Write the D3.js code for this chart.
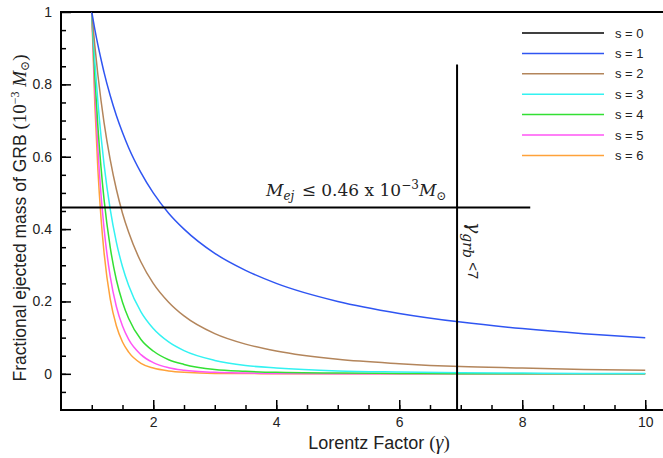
<!DOCTYPE html>
<html>
<head>
<style>
  body { margin: 0; background: #fff; font-family: "Liberation Sans", Arial, sans-serif; }
  .tick text { font-family: "Liberation Sans", Arial, sans-serif; font-size: 14px; fill: #222; }
  .tick line { stroke: #000; stroke-width: 1.5; }
</style>
</head>
<body>
<div id="chart"></div>
<script src="https://d3js.org/d3.v7.min.js"></script>
<script>
// Lorentz factor samples and the fractional ejected mass
var gammas = [1, 1.05, 1.1, 1.15, 1.2, 1.3, 1.4, 1.5, 1.6, 1.8, 2, 2.25, 2.5, 3, 3.5, 4, 5, 6, 7, 8, 9, 10];
var s0 = [1, 1, 1, 1, 1, 1, 1, 1, 1, 1, 1, 1, 1, 1, 1, 1, 1, 1, 1, 1, 1, 1];
var s1 = [1, 0.952, 0.909, 0.870, 0.833, 0.769, 0.714, 0.667, 0.625, 0.556, 0.5, 0.444, 0.4, 0.333, 0.286, 0.25, 0.2, 0.167, 0.143, 0.125, 0.111, 0.1];
var s2 = [1, 0.907, 0.826, 0.756, 0.694, 0.592, 0.510, 0.444, 0.391, 0.309, 0.25, 0.198, 0.16, 0.111, 0.082, 0.063, 0.04, 0.028, 0.020, 0.016, 0.012, 0.01];
var s3 = [1, 0.864, 0.751, 0.658, 0.579, 0.455, 0.364, 0.296, 0.244, 0.171, 0.125, 0.088, 0.064, 0.037, 0.023, 0.016, 0.008, 0.005, 0.003, 0.002, 0.001, 0.001];
var s4 = [1, 0.823, 0.683, 0.572, 0.482, 0.350, 0.260, 0.198, 0.153, 0.095, 0.063, 0.039, 0.026, 0.012, 0.007, 0.004, 0.002, 0.001, 0, 0, 0, 0];
var s5 = [1, 0.784, 0.621, 0.497, 0.402, 0.269, 0.186, 0.132, 0.095, 0.053, 0.031, 0.017, 0.010, 0.004, 0.002, 0.001, 0, 0, 0, 0, 0, 0];
var s6 = [1, 0.746, 0.564, 0.432, 0.335, 0.207, 0.133, 0.088, 0.060, 0.029, 0.016, 0.008, 0.004, 0.001, 0.001, 0, 0, 0, 0, 0, 0, 0];

var labels = ["s = 0", "s = 1", "s = 2", "s = 3", "s = 4", "s = 5", "s = 6"];
var colors = ["#000000", "#2f55f2", "#b3855b", "#33f2f2", "#33e033", "#ff55f5", "#ffa23a"];
var allSeries = [s0, s1, s2, s3, s4, s5, s6];

var xTicks = [2, 4, 6, 8, 10];
var yTicks = [0, 0.2, 0.4, 0.6, 0.8, 1];

// reference lines
var massLimit = 0.46, massLineEnd = 8.13;
var gammaLimit = 6.94, gammaLineTop = 0.855;

var width = 663, height = 458;
var margin = {top: 12, left: 61, bottom: 48};

var svg = d3.select("#chart").append("svg")
  .attr("width", width)
  .attr("height", height);

var x = d3.scaleLinear().domain([0.5, 10.5]).range([margin.left, 676]);
var y = d3.scaleLinear().domain([-0.1, 1]).range([height - margin.bottom, margin.top]);

// minor ticks
svg.append("g")
  .attr("transform", "translate(0," + y(-0.1) + ")")
  .call(d3.axisBottom(x).tickValues(d3.range(1, 10.01, 0.5)).tickSize(-5).tickFormat(""))
  .call(function(g) { g.select(".domain").remove(); });
svg.append("g")
  .attr("transform", "translate(" + x(0.5) + ",0)")
  .call(d3.axisLeft(y).tickValues(d3.range(-0.05, 1, 0.05)).tickSize(-5).tickFormat(""))
  .call(function(g) { g.select(".domain").remove(); });

// major ticks
svg.append("g")
  .attr("transform", "translate(0," + y(-0.1) + ")")
  .call(d3.axisBottom(x).tickValues(xTicks).tickSize(-10).tickPadding(7).tickFormat(d3.format("d")))
  .call(function(g) { g.select(".domain").remove(); });
svg.append("g")
  .attr("transform", "translate(" + x(0.5) + ",0)")
  .call(d3.axisLeft(y).tickValues(yTicks).tickSize(-10).tickPadding(9).tickFormat(function(d) { return d === 0 || d === 1 ? d : d3.format(".1f")(d); }))
  .call(function(g) { g.select(".domain").remove(); });

// frame
svg.append("rect")
  .attr("x", x(0.5))
  .attr("y", y(1))
  .attr("width", x(10.5) - x(0.5))
  .attr("height", y(-0.1) - y(1))
  .attr("fill", "none")
  .attr("stroke", "#000")
  .attr("stroke-width", 2);

var line = d3.line()
  .x(function(d, i) { return x(gammas[i]); })
  .y(function(d) { return y(d); })
  .curve(d3.curveMonotoneX);

svg.append("g").selectAll("path")
  .data(allSeries.slice(1).reverse())
  .enter().append("path")
  .attr("d", line)
  .attr("fill", "none")
  .attr("stroke", function(d) { return colors[allSeries.indexOf(d)]; })
  .attr("stroke-width", 1.5);

// s = 0 lies on the top edge
svg.append("line")
  .attr("x1", x(gammas[0])).attr("x2", x(10.5))
  .attr("y1", y(s0[0])).attr("y2", y(s0[0]))
  .attr("stroke", "#000").attr("stroke-width", 2);

// reference lines
svg.append("line")
  .attr("x1", x(0.5)).attr("x2", x(massLineEnd))
  .attr("y1", y(massLimit)).attr("y2", y(massLimit))
  .attr("stroke", "#000").attr("stroke-width", 2);
svg.append("line")
  .attr("x1", x(gammaLimit)).attr("x2", x(gammaLimit))
  .attr("y1", y(gammaLineTop)).attr("y2", y(-0.1))
  .attr("stroke", "#000").attr("stroke-width", 2);

var t1 = svg.append("text")
  .attr("x", 266)
  .attr("y", y(massLimit) - 11)
  .style("font-family", "'DejaVu Serif', serif")
  .style("font-size", "17px")
  .style("fill", "#222");
t1.append("tspan").style("font-style", "italic").text("M");
t1.append("tspan").attr("dy", 4).style("font-size", "12px").style("font-style", "italic").text("ej");
t1.append("tspan").attr("dy", -4).attr("dx", 2).text(" \u2264 0.46 x 10");
t1.append("tspan").attr("dy", -7).style("font-size", "12px").text("\u22123");
t1.append("tspan").attr("dy", 7).style("font-style", "italic").text("M");
t1.append("tspan").attr("dy", 4).style("font-size", "12px").text("\u2299");

var t2 = svg.append("text")
  .attr("transform", "translate(468,222) rotate(90)")
  .style("font-family", "'DejaVu Serif', serif")
  .style("font-size", "19px")
  .style("fill", "#222");
t2.append("tspan").style("font-style", "italic").text("\u03b3");
t2.append("tspan").attr("dy", 5).style("font-size", "14px").style("font-style", "italic").text("grb");
t2.append("tspan").attr("dy", -5).style("font-family", "'Liberation Sans', Arial, sans-serif").style("font-size", "15px").text(" <7");

// legend
var legend = svg.append("g").selectAll("g")
  .data(labels)
  .enter().append("g")
  .attr("transform", function(d, i) { return "translate(522," + (33 + i * 20.4) + ")"; });
legend.append("line")
  .attr("x1", 0).attr("x2", 82)
  .attr("stroke", function(d, i) { return colors[i]; })
  .attr("stroke-width", 1.5);
legend.append("text")
  .attr("x", 93)
  .attr("dy", "0.35em")
  .style("font-size", "13px")
  .style("fill", "#222")
  .text(function(d) { return d; });

// axis titles
var xt = svg.append("text")
  .attr("x", 379)
  .attr("y", 449)
  .attr("text-anchor", "middle")
  .style("font-size", "18px")
  .style("fill", "#222");
xt.append("tspan").text("Lorentz Factor ");
xt.append("tspan").style("font-family", "'Liberation Serif', serif").style("font-size", "19px").text("(");
xt.append("tspan").style("font-family", "'Liberation Serif', serif").style("font-style", "italic").style("font-size", "20px").text("\u03b3");
xt.append("tspan").style("font-family", "'Liberation Serif', serif").style("font-size", "19px").text(")");

var yt = svg.append("text")
  .attr("transform", "translate(26,218) rotate(-90)")
  .attr("text-anchor", "middle")
  .style("font-size", "17.5px")
  .style("fill", "#222");
yt.append("tspan").text("Fractional ejected mass of GRB ");
yt.append("tspan").style("font-family", "'Liberation Serif', serif").style("font-size", "19px").text("(10");
yt.append("tspan").attr("dy", -7).style("font-family", "'Liberation Serif', serif").style("font-size", "12px").text("\u22123");
yt.append("tspan").attr("dy", 7).style("font-family", "'Liberation Serif', serif").style("font-style", "italic").style("font-size", "19px").text(" M");
yt.append("tspan").attr("dy", 3).style("font-family", "'DejaVu Serif', serif").style("font-size", "12px").text("\u2299");
yt.append("tspan").attr("dy", -3).style("font-family", "'Liberation Serif', serif").style("font-size", "19px").text(")");
</script>
</body>
</html>
